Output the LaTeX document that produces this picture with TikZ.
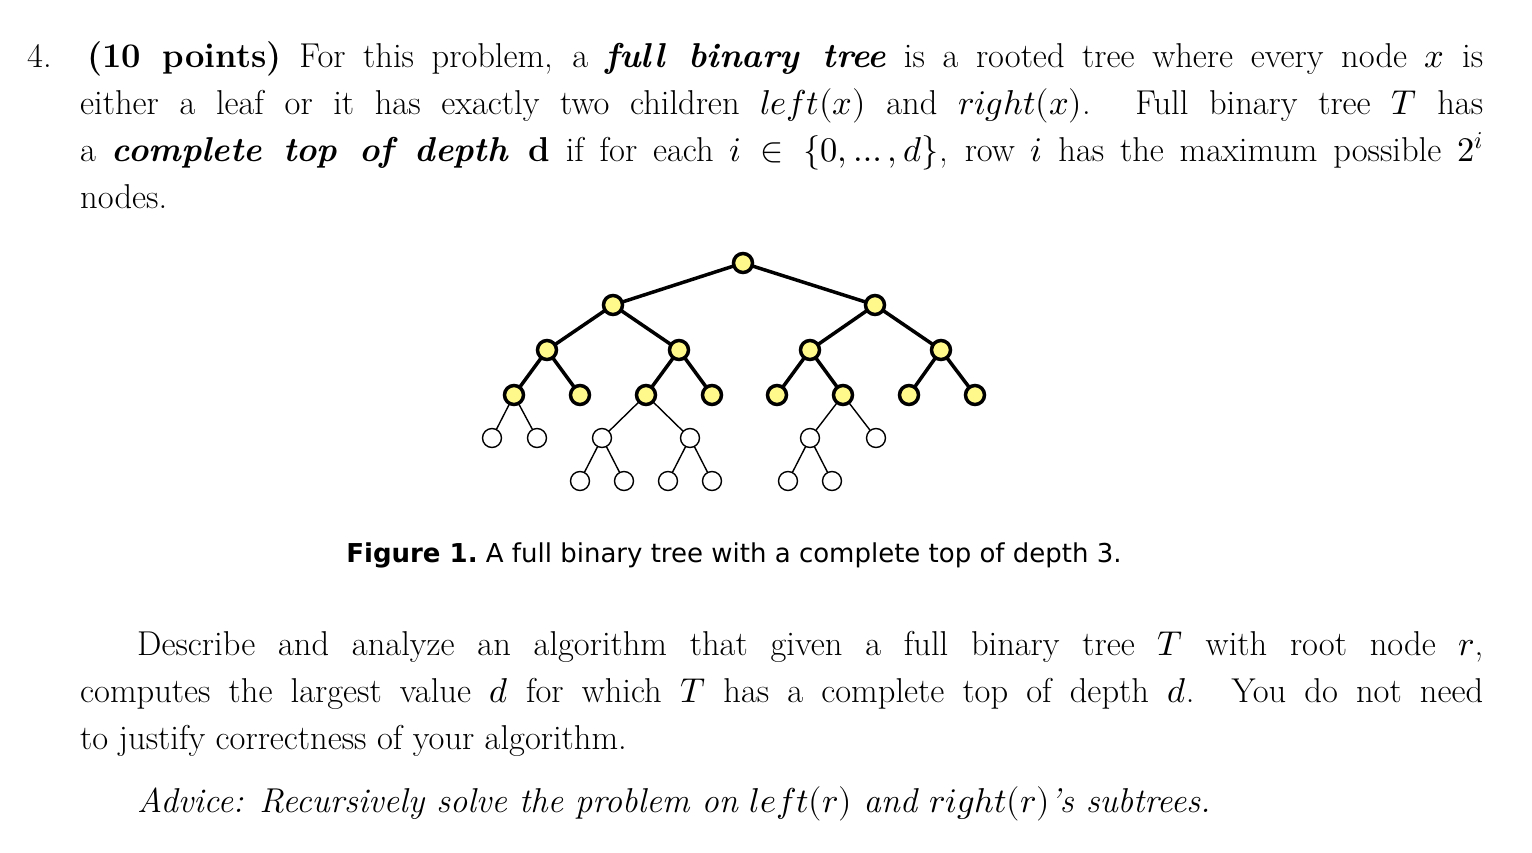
\documentclass[tikz,border=0pt]{standalone}
\usepackage{fontspec}
\usepackage{unicode-math}
\setmathfont{Latin Modern Math}
\newfontfamily\capfont{DejaVu Sans}
\begin{document}
\begin{tikzpicture}[x=1pt,y=-1pt,
 yel/.style={circle,draw=black,line width=3.5pt,fill=yellow!45,inner sep=0pt,minimum size=19pt},
 wht/.style={circle,draw=black,line width=1.4pt,fill=white,inner sep=0pt,minimum size=19pt},
 thick edge/.style={line width=3.5pt},
 thin edge/.style={line width=1.4pt},
 txt/.style={anchor=base west,inner sep=0pt,font=\fontsize{34.5}{40}\selectfont}]
\useasboundingbox (0,0) rectangle (1532,852);
% text
\node[txt] (l1) at (27,67) {\makebox[1456pt][s]{4. \textbf{(10 points)} For this problem, a \textbf{\textit{full binary tree}} is a rooted tree where every node $x$ is}};
\node[txt] (l2) at (80,114) {\makebox[1403pt][s]{either a leaf or it has exactly two children $left(x)$ and $right(x)$. Full binary tree $T$ has}};
\node[txt] (l3) at (80,161) {\makebox[1403pt][s]{a \textbf{\textit{complete top of depth} d} if for each $i\in\{0,\ldots,d\}$, row $i$ has the maximum possible $2^i$}};
\node[txt] (l4) at (80,208) {nodes.};
\node[txt] (l5) at (137,655) {\makebox[1346pt][s]{Describe and analyze an algorithm that given a full binary tree $T$ with root node $r$,}};
\node[txt] (l6) at (80,702) {\makebox[1403pt][s]{computes the largest value $d$ for which $T$ has a complete top of depth $d$. You do not need}};
\node[txt] (l7) at (80,749) {to justify correctness of your algorithm.};
\node[txt] (l8) at (137,812) {\textit{Advice: Recursively solve the problem on $left(r)$ and $right(r)$'s subtrees.}};
\node[anchor=base,inner sep=0pt,font=\capfont\fontsize{26}{30}\selectfont] (cap) at (734,562) {\textbf{Figure 1.}\ A full binary tree with a complete top of depth 3.};
% tree coordinates
\coordinate (r) at (743,263);
\coordinate (a) at (613,305); \coordinate (b) at (875,305);
\coordinate (aa) at (547,350); \coordinate (ab) at (679,350);
\coordinate (ba) at (810,350); \coordinate (bb) at (941,350);
\coordinate (aaa) at (514,395); \coordinate (aab) at (580,395);
\coordinate (aba) at (646,395); \coordinate (abb) at (712,395);
\coordinate (baa) at (777,395); \coordinate (bab) at (843,395);
\coordinate (bba) at (909,395); \coordinate (bbb) at (975,395);
\coordinate (w1) at (492,438); \coordinate (w2) at (537,438);
\coordinate (w3) at (602,438); \coordinate (w4) at (690,438);
\coordinate (w5) at (810,438); \coordinate (w6) at (876,438);
\coordinate (x1) at (580,481); \coordinate (x2) at (624,481);
\coordinate (x3) at (668,481); \coordinate (x4) at (712,481);
\coordinate (x5) at (788,481); \coordinate (x6) at (832,481);
\draw[thin edge] (aaa)--(w1) (aaa)--(w2) (aba)--(w3) (aba)--(w4) (bab)--(w5) (bab)--(w6)
 (w3)--(x1) (w3)--(x2) (w4)--(x3) (w4)--(x4) (w5)--(x5) (w5)--(x6);
\draw[thick edge] (r)--(a) (r)--(b) (a)--(aa) (a)--(ab) (b)--(ba) (b)--(bb)
 (aa)--(aaa) (aa)--(aab) (ab)--(aba) (ab)--(abb) (ba)--(baa) (ba)--(bab) (bb)--(bba) (bb)--(bbb);
\foreach \n in {r,a,b,aa,ab,ba,bb,aaa,aab,aba,abb,baa,bab,bba,bbb} \node[yel] (n\n) at (\n) {};
\foreach \n in {w1,w2,w3,w4,w5,w6,x1,x2,x3,x4,x5,x6} \node[wht] (n\n) at (\n) {};
\end{tikzpicture}
\end{document}
